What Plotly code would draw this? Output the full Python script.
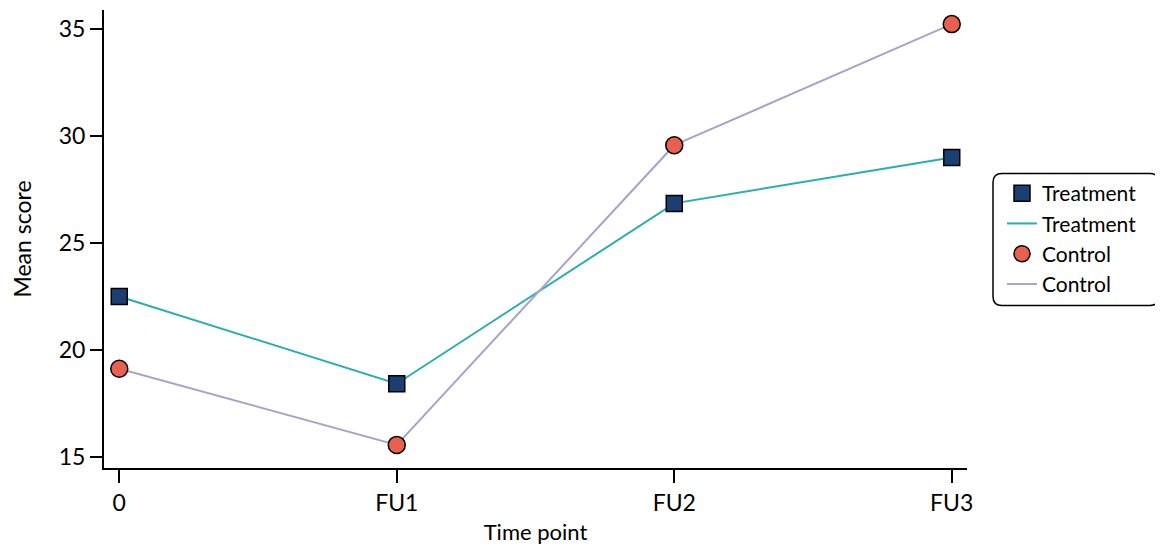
import plotly.graph_objects as go

time_points = ["0", "FU1", "FU2", "FU3"]
x_pos = [0, 1, 2, 3]
treatment = [22.5, 18.42, 26.85, 29.0]
control = [19.12, 15.56, 29.57, 35.23]
y_ticks = [15, 20, 25, 30, 35]

FONT = "Lato, 'Open Sans', sans-serif"
FS = 23
LFS = 21

# figure size (page has an 8px body margin)
W, H = 1155, 537
# plot-area pixel geometry in figure coordinates
L, R, T, B = 96, 959, 2, 460


def px_to_paper_x(px):
    return (px - L) / (R - L)


def px_to_paper_y(py):
    return (B - py) / (B - T)


fig = go.Figure()

fig.add_trace(go.Scatter(x=x_pos, y=treatment, mode="lines", name="Treatment",
                         line=dict(color="#2aaeae", width=2), legendrank=2))
fig.add_trace(go.Scatter(x=x_pos, y=control, mode="lines", name="Control",
                         line=dict(color="#a8a4c8", width=2), legendrank=4))
fig.add_trace(go.Scatter(x=x_pos, y=treatment, mode="markers", name="Treatment",
                         marker=dict(symbol="square", size=16, color="#1b3f72",
                                     line=dict(color="black", width=1.5)), legendrank=1))
fig.add_trace(go.Scatter(x=x_pos, y=control, mode="markers", name="Control",
                         marker=dict(symbol="circle", size=17, color="#e8604f",
                                     line=dict(color="black", width=1.5)), legendrank=3))

# rounded legend frame (figure pixel coords)
bx0, bx1, by0, by1, r = 985, 1151, 165.5, 297.5, 9
path = (
    f"M {px_to_paper_x(bx0 + r)},{px_to_paper_y(by0)} "
    f"L {px_to_paper_x(bx1 - r)},{px_to_paper_y(by0)} "
    f"Q {px_to_paper_x(bx1)},{px_to_paper_y(by0)} {px_to_paper_x(bx1)},{px_to_paper_y(by0 + r)} "
    f"L {px_to_paper_x(bx1)},{px_to_paper_y(by1 - r)} "
    f"Q {px_to_paper_x(bx1)},{px_to_paper_y(by1)} {px_to_paper_x(bx1 - r)},{px_to_paper_y(by1)} "
    f"L {px_to_paper_x(bx0 + r)},{px_to_paper_y(by1)} "
    f"Q {px_to_paper_x(bx0)},{px_to_paper_y(by1)} {px_to_paper_x(bx0)},{px_to_paper_y(by1 - r)} "
    f"L {px_to_paper_x(bx0)},{px_to_paper_y(by0 + r)} "
    f"Q {px_to_paper_x(bx0)},{px_to_paper_y(by0)} {px_to_paper_x(bx0 + r)},{px_to_paper_y(by0)} Z"
)

fig.update_layout(
    width=W, height=H,
    margin=dict(l=L, r=W - R, t=T, b=H - B),
    plot_bgcolor="white", paper_bgcolor="white",
    font=dict(family=FONT, size=FS, color="black"),
    xaxis=dict(
        range=[-0.055, 3.055], tickmode="array", tickvals=x_pos, ticktext=time_points,
        showline=True, linecolor="black", linewidth=2, showgrid=False, zeroline=False,
        ticks="outside", ticklen=13, tickwidth=2, tickcolor="black",
        title=dict(text="Time point", font=dict(size=FS - 1), standoff=12),
        tickfont=dict(size=FS), automargin=False,
    ),
    yaxis=dict(
        range=[14.48, 35.89], tickmode="array", tickvals=y_ticks,
        showline=True, linecolor="black", linewidth=2, showgrid=False, zeroline=False,
        ticks="outside", ticklen=12, tickwidth=2, tickcolor="black",
        title=dict(text="Mean score", font=dict(size=FS), standoff=24),
        tickfont=dict(size=FS), automargin=False,
    ),
    legend=dict(
        x=px_to_paper_x(994), y=px_to_paper_y(165), xanchor="left", yanchor="top",
        borderwidth=0, bgcolor="rgba(0,0,0,0)",
        font=dict(size=LFS), itemwidth=30, tracegroupgap=0,
    ),
    shapes=[dict(type="path", xref="paper", yref="paper", path=path,
                 line=dict(color="black", width=1.5), fillcolor="rgba(0,0,0,0)")],
    showlegend=True,
)

fig.write_html("out.html")
